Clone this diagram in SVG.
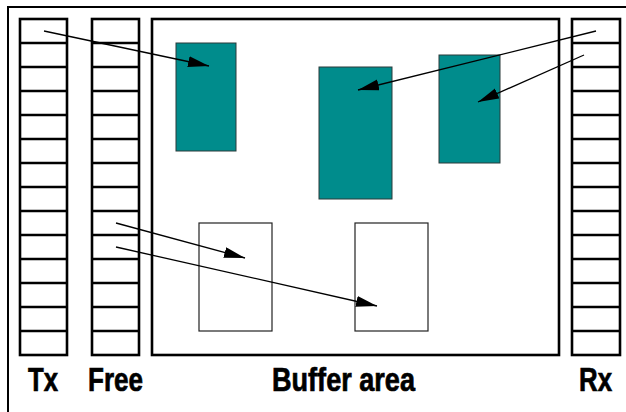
<svg xmlns="http://www.w3.org/2000/svg" width="626" height="412" viewBox="0 0 626 412">
<defs>
<style>
.frame{fill:none;stroke:#000;stroke-width:2}
.col{fill:#fff;stroke:#000;stroke-width:2.6}
.row{stroke:#000;stroke-width:2.3}
.teal{fill:#008c8c;stroke:#2a3a3a;stroke-width:1}
.empty{fill:#fff;stroke:#222;stroke-width:1.2}
.arrow{stroke:#000;stroke-width:1.3;fill:none;marker-end:url(#ah)}
.lbl{font-family:"Liberation Sans",Arial,sans-serif;font-weight:bold;font-size:33px;fill:#000;stroke:#000;stroke-width:0.7}
</style>
<marker id="ah" markerUnits="userSpaceOnUse" markerWidth="24" markerHeight="14" refX="21" refY="5.5" orient="auto">
<path d="M0,0 L21,5.5 L0,11 Z" fill="#000"/>
</marker>
<g id="rows">
<line class="row" x1="0" y1="24" x2="47" y2="24"/>
<line class="row" x1="0" y1="48" x2="47" y2="48"/>
<line class="row" x1="0" y1="72" x2="47" y2="72"/>
<line class="row" x1="0" y1="96" x2="47" y2="96"/>
<line class="row" x1="0" y1="120" x2="47" y2="120"/>
<line class="row" x1="0" y1="144" x2="47" y2="144"/>
<line class="row" x1="0" y1="168" x2="47" y2="168"/>
<line class="row" x1="0" y1="192" x2="47" y2="192"/>
<line class="row" x1="0" y1="216" x2="47" y2="216"/>
<line class="row" x1="0" y1="240" x2="47" y2="240"/>
<line class="row" x1="0" y1="264" x2="47" y2="264"/>
<line class="row" x1="0" y1="288" x2="47" y2="288"/>
<line class="row" x1="0" y1="312" x2="47" y2="312"/>
</g>
</defs>
<rect width="626" height="412" fill="#fff"/>
<rect id="outer" class="frame" x="8" y="7" width="640" height="420"/>
<g id="tx">
<rect class="col" x="20" y="19" width="47" height="336"/>
<use href="#rows" x="20" y="19"/>
<text class="lbl" x="28" y="391" textLength="30" lengthAdjust="spacingAndGlyphs">Tx</text>
</g>
<g id="free">
<rect class="col" x="92" y="19" width="47" height="336"/>
<use href="#rows" x="92" y="19"/>
<text class="lbl" x="88" y="391" textLength="55" lengthAdjust="spacingAndGlyphs">Free</text>
</g>
<g id="rx">
<rect class="col" x="572" y="19" width="48" height="336"/>
<use href="#rows" x="572.5" y="19"/>
<text class="lbl" x="579" y="391" textLength="33" lengthAdjust="spacingAndGlyphs">Rx</text>
</g>
<g id="buffer">
<rect class="col" x="152" y="19" width="407" height="336"/>
<text class="lbl" x="272" y="391" textLength="143" lengthAdjust="spacingAndGlyphs">Buffer area</text>
</g>
<g id="blk1"><rect class="teal" x="176" y="43" width="60" height="108"/></g>
<g id="blk2"><rect class="teal" x="319" y="67" width="73" height="132"/></g>
<g id="blk3"><rect class="teal" x="439" y="55" width="61" height="108"/></g>
<g id="free1"><rect class="empty" x="199" y="223" width="73" height="108"/></g>
<g id="free2"><rect class="empty" x="355" y="223" width="73" height="108"/></g>
<g id="connectors">
<line class="arrow" x1="44" y1="31" x2="209" y2="66"/>
<line class="arrow" x1="596" y1="31" x2="358" y2="90"/>
<line class="arrow" x1="584" y1="55" x2="478" y2="102"/>
<line class="arrow" x1="116" y1="223" x2="245" y2="258"/>
<line class="arrow" x1="116" y1="247" x2="377" y2="306"/>
</g>
</svg>
